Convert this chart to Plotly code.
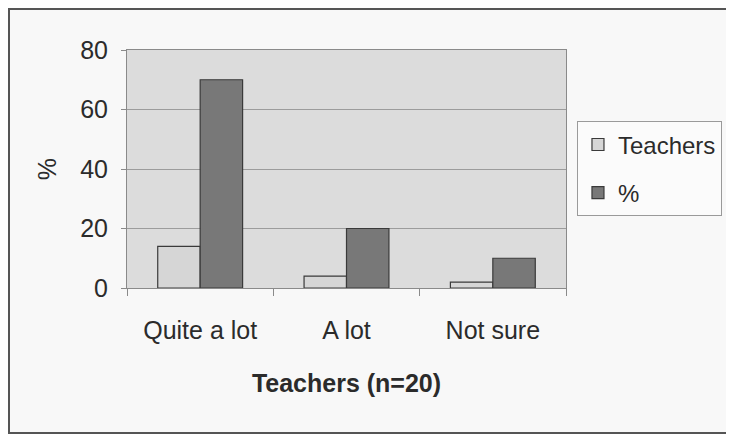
import plotly.graph_objects as go

categories = ["Quite a lot", "A lot", "Not sure"]
teachers = [14, 4, 2]
percent = [70, 20, 10]
series_names = ["Teachers", "%"]
y_ticks = [0, 20, 40, 60, 80]

FONT = "Liberation Sans, Arial, sans-serif"
TXT = "#2b2b2b"

W, H = 726, 426
L, R, T, B = 119, 168, 42, 146
PW, PH = W - L - R, H - T - B

fig = go.Figure()
fig.add_trace(go.Bar(
    x=categories, y=teachers, name=series_names[0],
    marker=dict(color="#d6d6d6", line=dict(color="#3a3a3a", width=1.2)),
    legendgroup="a",
))
fig.add_trace(go.Bar(
    x=categories, y=percent, name=series_names[1],
    marker=dict(color="#787878", line=dict(color="#3a3a3a", width=1.2)),
    legendgroup="b",
))

fig.update_layout(
    width=W, height=H,
    margin=dict(l=L, r=R, t=T, b=B, autoexpand=False),
    paper_bgcolor="#f8f8f8",
    plot_bgcolor="#dcdcdc",
    font=dict(family=FONT, size=25, color=TXT),
    barmode="group",
    bargap=0.42,
    bargroupgap=0,
    showlegend=True,
    legend=dict(
        x=1.025, xanchor="left", y=0.70, yanchor="top",
        bgcolor="#fbfbfb", bordercolor="#9a9a9a", borderwidth=1,
        font=dict(family=FONT, size=24, color=TXT),
        tracegroupgap=14, traceorder="grouped",
    ),
    xaxis=dict(
        showline=True, linecolor="#8a8a8a", linewidth=1, mirror=True,
        ticks="outside", ticklen=7, tickcolor="#8a8a8a", tickson="boundaries",
        ticklabelstandoff=20,
        title=dict(text="<b>Teachers (n=20)</b>", font=dict(size=25, color=TXT), standoff=31),
        showgrid=False,
    ),
    yaxis=dict(
        range=[0, 80], tickvals=y_ticks,
        showline=True, linecolor="#8a8a8a", linewidth=1, mirror=True,
        ticks="outside", ticklen=5, tickcolor="#8a8a8a",
        ticklabelstandoff=8,
        showgrid=True, gridcolor="#9c9c9c", gridwidth=1,
        title=dict(text="%", font=dict(size=25, color=TXT), standoff=16),
        zeroline=False,
    ),
)

# outer frame around the whole picture
fig.add_shape(type="rect", xref="paper", yref="paper",
              x0=-(L - 1) / PW, x1=(W - L + 10) / PW,
              y0=-(B - 1) / PH, y1=1 + (T - 1) / PH,
              line=dict(color="#555555", width=2), fillcolor="rgba(0,0,0,0)", layer="below")

fig.write_html("out.html")
